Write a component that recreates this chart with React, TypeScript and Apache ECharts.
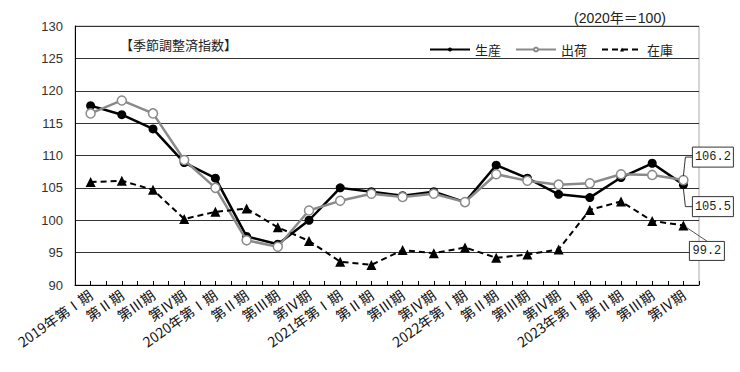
import React, { useEffect, useRef } from "react";
import * as echarts from "echarts";

const categories = [
  "2019年第Ⅰ期", "第Ⅱ期", "第Ⅲ期", "第Ⅳ期",
  "2020年第Ⅰ期", "第Ⅱ期", "第Ⅲ期", "第Ⅳ期",
  "2021年第Ⅰ期", "第Ⅱ期", "第Ⅲ期", "第Ⅳ期",
  "2022年第Ⅰ期", "第Ⅱ期", "第Ⅲ期", "第Ⅳ期",
  "2023年第Ⅰ期", "第Ⅱ期", "第Ⅲ期", "第Ⅳ期",
];

const production = [117.7, 116.3, 114.1, 108.9, 106.5, 97.5, 96.3, 100.0, 105.0, 104.4, 103.8, 104.4, 102.8, 108.5, 106.5, 104.0, 103.5, 106.6, 108.8, 105.5];
const shipments = [116.5, 118.5, 116.5, 109.3, 105.0, 96.9, 95.9, 101.5, 103.0, 104.1, 103.6, 104.1, 102.8, 107.1, 106.1, 105.5, 105.7, 107.1, 107.0, 106.2];
const inventory = [105.9, 106.1, 104.7, 100.2, 101.3, 101.8, 98.9, 96.8, 93.6, 93.1, 95.4, 94.9, 95.8, 94.2, 94.7, 95.5, 101.6, 102.9, 99.9, 99.2];

const yTicks = { min: 90, max: 130, interval: 5 };
const seriesNames = ["生産", "出荷", "在庫"];

const SANS = "'Liberation Sans', 'Noto Sans CJK JP', sans-serif";
const CJK = "'Noto Sans CJK JP', sans-serif";
const MONO = "'Liberation Mono', 'DejaVu Sans Mono', monospace";

export default function App() {
  const ref = useRef<HTMLDivElement>(null);
  useEffect(() => {
    document.body.style.margin = "0";
    if (!ref.current) return;
    const chart = echarts.init(ref.current, undefined, { renderer: "svg" });
    chart.setOption({
      animation: false,
      backgroundColor: "#fff",
      textStyle: { fontFamily: SANS },
      grid: { left: 75, right: 41, top: 26, bottom: 87, show: true, borderColor: "#aaa", borderWidth: 1 },
      title: [
        { text: "【季節調整済指数】", left: 115, top: 33, textStyle: { fontSize: 13, fontWeight: "normal", color: "#222", fontFamily: CJK } },
        { text: "(2020年＝100)", left: 569, top: 6, textStyle: { fontSize: 14, fontWeight: "normal", color: "#222", fontFamily: SANS } },
      ],
      legend: {
        data: seriesNames,
        right: 62,
        top: 38,
        itemWidth: 40,
        itemHeight: 5,
        itemGap: 14,
        textStyle: { fontSize: 13, color: "#222", fontFamily: CJK },
      },
      xAxis: [
        {
          type: "category",
          data: categories,
          boundaryGap: true,
          axisLine: { lineStyle: { color: "#000", width: 1 } },
          axisTick: { show: true, inside: true, length: 4, interval: 0, lineStyle: { color: "#000" } },
          axisLabel: { interval: 0, rotate: 35, margin: 8, fontSize: 14, color: "#111", fontFamily: CJK },
          splitLine: { show: false },
        },
        {
          type: "category",
          data: categories,
          boundaryGap: true,
          position: "bottom",
          axisLine: { show: false },
          axisTick: { show: true, inside: true, length: 4, alignWithLabel: true, interval: 0, lineStyle: { color: "#000" } },
          axisLabel: { show: false },
          splitLine: { show: false },
        },
      ],
      yAxis: {
        type: "value",
        min: yTicks.min,
        max: yTicks.max,
        interval: yTicks.interval,
        axisLine: { show: true, lineStyle: { color: "#000" } },
        axisTick: { show: false },
        axisLabel: { fontSize: 13, color: "#333", margin: 12 },
        splitLine: { lineStyle: { color: "#333", width: 1 } },
      },
      series: [
        {
          name: seriesNames[0],
          type: "line",
          data: production,
          symbol: "circle",
          symbolSize: 9,
          lineStyle: { color: "#000", width: 2.5 },
          itemStyle: { color: "#000" },
          z: 3,
        },
        {
          name: seriesNames[1],
          type: "line",
          data: shipments,
          symbol: "circle",
          symbolSize: 9,
          lineStyle: { color: "#8a8a8a", width: 2.5 },
          itemStyle: { color: "#fff", borderColor: "#8a8a8a", borderWidth: 1.5 },
          z: 4,
        },
        {
          name: seriesNames[2],
          type: "line",
          data: inventory,
          symbol: "triangle",
          symbolSize: 10,
          lineStyle: { color: "#000", width: 2, type: [6, 4] },
          itemStyle: { color: "#000" },
          z: 5,
        },
      ],
    });

    const last = categories.length - 1;
    const pShip = chart.convertToPixel({ seriesIndex: 1 }, [last, shipments[last]]) as number[];
    const pProd = chart.convertToPixel({ seriesIndex: 0 }, [last, production[last]]) as number[];
    const pInv = chart.convertToPixel({ seriesIndex: 2 }, [last, inventory[last]]) as number[];

    const box = (x: number, y: number, w: number, h: number, txt: string) => [
      { type: "rect", shape: { x, y, width: w, height: h }, style: { fill: "#fff", stroke: "#333", lineWidth: 1 }, z: 20 },
      { type: "text", x: x + w / 2, y: y + h / 2, style: { text: txt, font: `12px ${MONO}`, fill: "#222", align: "center", verticalAlign: "middle" }, z: 21 },
    ];

    const sBoxX = pShip[0] + 9, sBoxY = pShip[1] - 33;
    const pBoxX = pProd[0] + 9, pBoxY = pProd[1] + 12;
    const iBoxX = pInv[0] + 6, iBoxY = pInv[1] + 16;

    chart.setOption({
      graphic: [
        { type: "polyline", shape: { points: [[sBoxX, sBoxY + 10], [pShip[0] + 2, sBoxY + 10], [pShip[0], pShip[1] - 4]] }, style: { stroke: "#333", lineWidth: 1, fill: null }, z: 19 },
        { type: "polyline", shape: { points: [[pProd[0], pProd[1] + 4], [pProd[0] + 2, pBoxY + 10], [pBoxX, pBoxY + 10]] }, style: { stroke: "#333", lineWidth: 1, fill: null }, z: 19 },
        { type: "line", shape: { x1: pInv[0] + 3, y1: pInv[1] + 2, x2: pInv[0] + 24, y2: iBoxY }, style: { stroke: "#555", lineWidth: 1 }, z: 19 },
        ...box(sBoxX, sBoxY, 41, 20, shipments[last].toFixed(1)),
        ...box(pBoxX, pBoxY, 41, 20, production[last].toFixed(1)),
        ...box(iBoxX, iBoxY, 35, 19, inventory[last].toFixed(1)),
      ],
    });

    return () => chart.dispose();
  }, []);
  return <div ref={ref} style={{ width: 740, height: 372 }} />;
}
